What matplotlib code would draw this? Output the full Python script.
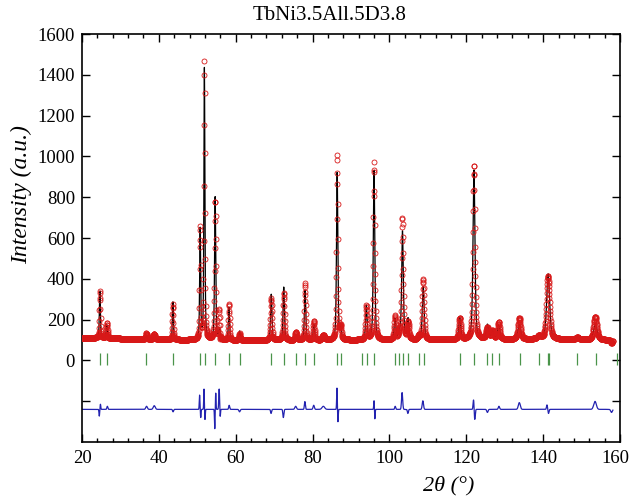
import numpy as np
import matplotlib
matplotlib.use("Agg")
import matplotlib.pyplot as plt
import matplotlib.transforms as mtransforms

plt.rcParams["font.family"] = ["Liberation Serif", "DejaVu Serif"]

# calculated profile: peak position (deg), height above background, FWHM (deg)
peak_pos = [24.65, 26.45, 36.7, 38.7, 43.65, 50.75, 51.85, 54.65, 55.8, 58.25,
            61.0, 69.25, 72.5, 75.7, 78.05, 80.35, 82.8, 86.4, 87.3, 94.0,
            96.0, 101.45, 102.6, 103.4, 104.85, 107.7, 108.8, 118.3, 122.0, 125.5,
            126.8, 128.4, 133.8, 138.9, 141.3, 148.9, 153.6]
peak_height = [230, 65, 15, 10, 185, 540, 1330, 700, 50, 160,
               45, 225, 260, 25, 245, 75, 10, 820, 60, 165,
               830, 100, 30, 530, 100, 20, 260, 105, 830, 70,
               40, 70, 70, 15, 320, 10, 75]
peak_fwhm = [0.30, 0.35, 0.4, 0.5, 0.30, 0.30, 0.30, 0.35, 0.5, 0.35,
             0.4, 0.40, 0.40, 0.5, 0.40, 0.45, 0.6, 0.40, 0.45, 0.45,
             0.45, 0.5, 0.5, 0.5, 0.5, 0.5, 0.55, 0.6, 0.6, 0.7,
             0.7, 0.7, 0.9, 0.9, 0.9, 1.0, 1.1]

# background anchors
bg_x = [20, 40, 60, 100, 140, 158]
bg_y = [112, 102, 98, 100, 104, 100]

# difference (obs - calc) features: position, amplitude, width
diff_pos = [24.5, 24.8, 26.6, 36.8, 38.8, 43.7, 50.6, 50.9, 51.75, 52.0,
            54.55, 54.8, 55.7, 55.95, 58.3, 61.0, 69.2, 72.4, 75.6, 78.0,
            80.3, 82.8, 86.35, 86.6, 96.0, 96.2, 101.5, 103.3, 104.8, 108.7,
            121.9, 122.2, 125.5, 128.5, 133.8, 141.0, 141.4, 153.5, 157.8]
diff_amp = [-33, 25, 15, 15, 18, -12, 70, -40, 100, -50,
            -95, 80, 100, -40, 20, -12, -20, -40, 15, 38,
            20, 15, 105, -62, 45, -49, 15, 82, -20, 42,
            49, -52, -15, 15, 33, 22, -20, 39, -15]
diff_wid = [0.2, 0.2, 0.3, 0.5, 0.6, 0.3, 0.2, 0.2, 0.18, 0.2,
            0.18, 0.18, 0.25, 0.2, 0.3, 0.4, 0.3, 0.3, 0.5, 0.3,
            0.4, 0.8, 0.2, 0.2, 0.2, 0.2, 0.3, 0.35, 0.3, 0.4,
            0.3, 0.3, 0.4, 0.4, 0.6, 0.3, 0.3, 0.8, 0.5]
diff_offset = -240

# Bragg reflection positions
bragg_pos = [24.76, 26.5, 36.7, 43.7, 50.8, 51.96, 54.7, 58.2, 61.0, 69.3,
             72.5, 75.8, 78.1, 80.3, 86.4, 87.3, 92.8, 94.1, 96.0, 101.4,
             102.6, 103.6, 104.9, 107.7, 109.0, 118.4, 122.1, 125.5, 126.8, 128.5,
             134.0, 138.9, 141.3, 141.6, 148.9, 153.7, 159.1]


def pvoigt(x, x0, h, fwhm, eta=0.5):
    g = np.exp(-4 * np.log(2) * (x - x0) ** 2 / fwhm ** 2)
    l = 1 / (1 + 4 * (x - x0) ** 2 / fwhm ** 2)
    return h * (eta * l + (1 - eta) * g)


tt = np.arange(20, 158.2, 0.05)
calc = np.interp(tt, bg_x, bg_y)
for p, h, w in zip(peak_pos, peak_height, peak_fwhm):
    calc = calc + pvoigt(tt, p, h, w)

diff = np.zeros_like(tt)
for p, a, w in zip(diff_pos, diff_amp, diff_wid):
    diff = diff + a * np.exp(-4 * np.log(2) * (tt - p) ** 2 / w ** 2)
obs = calc + diff

fig = plt.figure(figsize=(6.32, 4.98), dpi=100)
ax = fig.add_axes([82 / 632, 1 - 442 / 498, 538 / 632, 408 / 498])

ax.plot(tt, obs, linestyle="none", marker="o", markersize=3.6,
        markerfacecolor="none", markeredgecolor="#d81818", markeredgewidth=0.6, zorder=3)
ax.plot(tt, calc, color="black", lw=0.9, zorder=2)
ax.plot(tt, diff + diff_offset, color="#2323b0", lw=0.9, zorder=2)
ax.vlines(bragg_pos, -22, 38, color="#4a944a", lw=0.9)

ax.set_xlim(20, 160)
ax.set_ylim(-400, 1600)
ax.set_xticks(np.arange(20, 161, 20))
ax.set_xticks(np.arange(20, 161, 4), minor=True)
ax.set_yticks(np.arange(-200, 1601, 200))
ax.set_yticklabels([""] + [str(v) for v in range(0, 1601, 200)])
ax.tick_params(which="both", direction="in", top=True, right=True, labelsize=13.5, width=1)
ax.tick_params(which="major", length=6)
ax.tick_params(which="minor", length=3)
ax.tick_params(axis="y", pad=5)
ax.tick_params(axis="x", pad=6)
for s in ax.spines.values():
    s.set_linewidth(1.2)

# nudge the last x label so it stays inside the figure
last = ax.get_xticklabels()[-1]
last.set_transform(last.get_transform() + mtransforms.ScaledTranslation(-0.05, 0, fig.dpi_scale_trans))

ax.set_ylabel("Intensity (a.u.)", fontsize=17, style="italic", va="center")
ax.yaxis.set_label_coords((22 - 82) / 538, (442 - 195) / 408)
ax.set_xlabel("2θ (°)", fontsize=16, style="italic", va="center")
ax.xaxis.set_label_coords((449 - 82) / 538, (442 - 486) / 408)
fig.text(330 / 632, 1 - 15 / 498, "TbNi3.5All.5D3.8", ha="center", va="center", fontsize=15)

fig.savefig("out.png", dpi=100)
